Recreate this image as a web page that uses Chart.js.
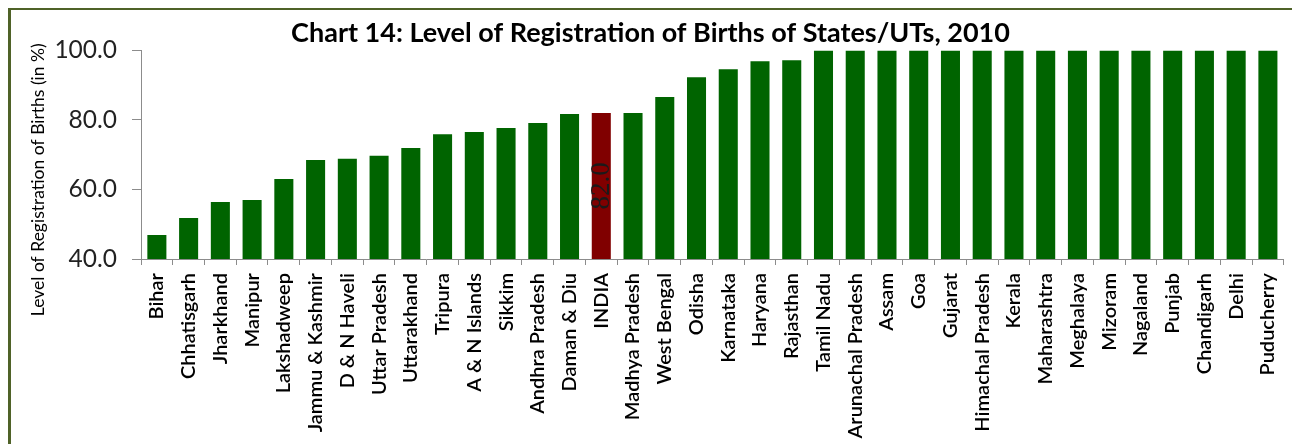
<!DOCTYPE html>
<html>
<head>
<meta charset="utf-8">
<title>Chart 14</title>
<script src="https://cdn.jsdelivr.net/npm/chart.js@4"></script>
<style>
  html, body { margin: 0; padding: 0; background: #fff; overflow: hidden; }
  #wrap { position: relative; width: 1292px; height: 444px; overflow: hidden; }
  #frame { position: absolute; left: 8px; top: 8px; width: 1330px; height: 500px;
           border: 3px solid #4f6228; border-top-width: 2px; box-sizing: border-box; }
  #births { position: absolute; left: 0; top: 0; }
</style>
</head>
<body>
<div id="wrap">
  <div id="frame"></div>
  <canvas id="births" width="1300" height="444"></canvas>
</div>
<script>
var chartTitle = "Chart 14: Level of Registration of Births of States/UTs, 2010";
var yAxisTitle = "Level of Registration of Births (in %)";

var states = [
    "Bihar", "Chhatisgarh", "Jharkhand", "Manipur", "Lakshadweep", "Jammu & Kashmir",
    "D & N Haveli", "Uttar Pradesh", "Uttarakhand", "Tripura", "A & N Islands", "Sikkim",
    "Andhra Pradesh", "Daman & Diu", "INDIA", "Madhya Pradesh", "West Bengal", "Odisha",
    "Karnataka", "Haryana", "Rajasthan", "Tamil Nadu", "Arunachal Pradesh", "Assam",
    "Goa", "Gujarat", "Himachal Pradesh", "Kerala", "Maharashtra", "Meghalaya",
    "Mizoram", "Nagaland", "Punjab", "Chandigarh", "Delhi", "Puducherry"
];
var registration = [
    46.9, 51.8, 56.4, 57.0, 63.0, 68.5,
    68.8, 69.7, 71.9, 75.9, 76.5, 77.7,
    79.1, 81.7, 82.0, 82.0, 86.6, 92.3,
    94.6, 96.9, 97.2, 100.0, 100.0, 100.0,
    100.0, 100.0, 100.0, 100.0, 100.0, 100.0,
    100.0, 100.0, 100.0, 100.0, 100.0, 100.0
];
var yTicks = [40, 60, 80, 100];
var labelledBar = "INDIA";

var green = "#006400";
var maroon = "#800000";

// value inside the INDIA bar, turned on its side
var indiaLabel = {
    id: "indiaLabel",
    afterDatasetsDraw: function (chart) {
        var i = states.indexOf(labelledBar);
        var bar = chart.getDatasetMeta(0).data[i];
        var bottom = Math.min(bar.base, chart.chartArea.bottom);
        var ctx = chart.ctx;
        ctx.save();
        ctx.translate(bar.x, (bar.y + bottom) / 2);
        ctx.rotate(-Math.PI / 2);
        ctx.font = "27px 'Liberation Serif'";
        ctx.fillStyle = "#1a1a1a";
        ctx.textAlign = "center";
        ctx.textBaseline = "middle";
        ctx.fillText(registration[i].toFixed(1), 0, 1);
        ctx.restore();
    }
};

// y axis title, sits a little below the middle of the axis like the original
var yTitle = {
    id: "yTitle",
    afterDraw: function (chart) {
        var area = chart.chartArea;
        var ctx = chart.ctx;
        ctx.save();
        ctx.translate(38, (area.top + area.bottom) / 2 + 25);
        ctx.rotate(-Math.PI / 2);
        ctx.font = "17.5px Lato";
        ctx.fillStyle = "#000";
        ctx.textAlign = "center";
        ctx.textBaseline = "middle";
        ctx.fillText(yAxisTitle, 0, 0);
        ctx.restore();
    }
};

new Chart(document.getElementById("births").getContext("2d"), {
    type: "bar",
    data: {
        labels: states,
        datasets: [{
            data: registration,
            backgroundColor: states.map(function (s) { return s === labelledBar ? maroon : green; }),
            barPercentage: 0.6,
            categoryPercentage: 1.0
        }]
    },
    options: {
        responsive: false,
        animation: false,
        devicePixelRatio: 1,
        layout: { padding: { left: 8, right: 7, top: 0, bottom: 0 } },
        plugins: {
            legend: { display: false },
            tooltip: { enabled: false },
            title: {
                display: true,
                text: chartTitle,
                color: "#000",
                font: { family: "Lato", size: 27, weight: "bold" },
                padding: { top: 17, bottom: 1 }
            }
        },
        scales: {
            x: {
                grid: { drawOnChartArea: false, tickLength: 6, color: "#8c8c8c", offset: true },
                border: { color: "#8c8c8c" },
                ticks: {
                    autoSkip: false,
                    minRotation: 90,
                    maxRotation: 90,
                    padding: 8,
                    color: "#000",
                    font: { family: "Lato", size: 20, weight: "600" }
                },
                afterFit: function (scale) { scale.height = 185; }
            },
            y: {
                min: 40,
                max: 100,
                afterBuildTicks: function (scale) {
                    scale.ticks = yTicks.map(function (v) { return { value: v }; });
                },
                grid: { drawOnChartArea: false, tickLength: 9, color: "#8c8c8c" },
                border: { color: "#8c8c8c" },
                ticks: {
                    padding: 15,
                    color: "#222",
                    font: { family: "Lato", size: 24.5 },
                    callback: function (v) { return Number(v).toFixed(1); }
                },
                afterFit: function (scale) { scale.width = 133; }
            }
        }
    },
    plugins: [indiaLabel, yTitle]
});
</script>
</body>
</html>
